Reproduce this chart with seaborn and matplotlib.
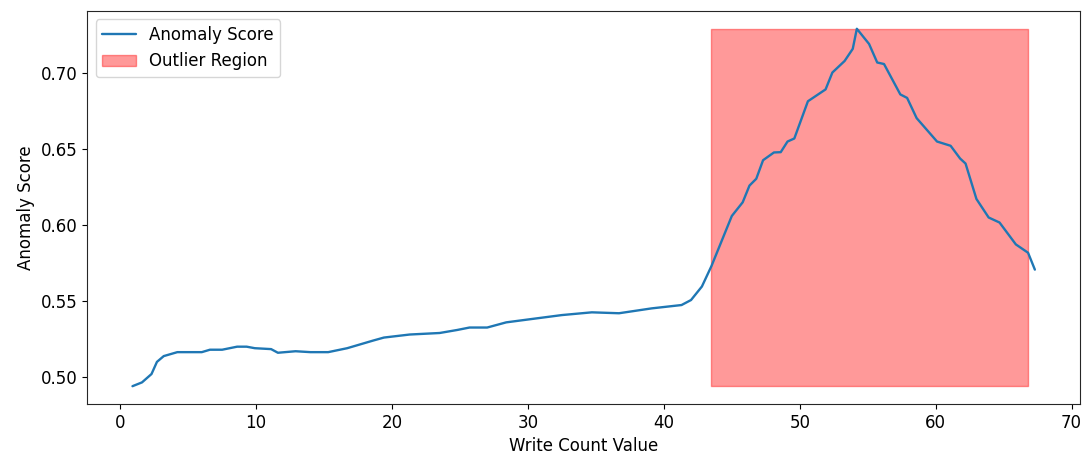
import numpy as np
import seaborn as sns
import matplotlib.pyplot as plt

# write count values (x) and the anomaly score
write_count = [0.9, 1.6, 2.3, 2.7, 3.2, 4.2, 6.0, 6.6, 7.5, 8.6, 9.3, 9.9, 11.1, 11.6,
               12.9, 14.0, 15.3, 16.7, 18.6, 19.4, 21.3, 23.5, 24.8, 25.7, 27.0, 28.4,
               30.1, 32.5, 34.7, 36.7, 39.1, 41.3, 42.0, 42.8, 43.5, 44.0, 45.0, 45.8,
               46.3, 46.8, 47.3, 48.1, 48.6, 49.1, 49.6, 50.6, 51.9, 52.4, 53.3, 53.9,
               54.2, 55.1, 55.7, 56.2, 57.4, 57.9, 58.6, 60.1, 61.1, 61.8, 62.2, 63.0,
               63.9, 64.7, 65.9, 66.8, 67.3]
anomaly_score = [0.494, 0.4965, 0.502, 0.510, 0.5138, 0.5164, 0.5164, 0.518, 0.518, 0.520,
                 0.520, 0.519, 0.5184, 0.516, 0.517, 0.5164, 0.5164, 0.519, 0.524, 0.526,
                 0.528, 0.529, 0.531, 0.5326, 0.5326, 0.536, 0.538, 0.5408, 0.5426, 0.542,
                 0.5452, 0.5474, 0.5507, 0.5596, 0.573, 0.584, 0.606, 0.615, 0.626, 0.6305,
                 0.6427, 0.6478, 0.648, 0.655, 0.657, 0.6815, 0.6893, 0.7004, 0.708, 0.716,
                 0.7292, 0.7192, 0.707, 0.706, 0.686, 0.6837, 0.6704, 0.655, 0.6522, 0.6438,
                 0.6405, 0.6172, 0.605, 0.6017, 0.5873, 0.5818, 0.5707]

# bounds of the region flagged as outliers
outlier_start = 43.5
outlier_end = 66.8

sns.set_style("ticks", {'text.color': 'black', 'axes.labelcolor': 'black',
                        'xtick.color': 'black', 'ytick.color': 'black'})
plt.rcParams['font.family'] = ['DejaVu Sans']

fig, ax = plt.subplots(figsize=(10.92, 4.54), dpi=100)
fig.subplots_adjust(left=0.08, right=0.989, top=0.976, bottom=0.11)

sns.lineplot(x=write_count, y=anomaly_score, ax=ax, color='tab:blue', lw=1.7,
             label='Anomaly Score')
ax.fill_between([outlier_start, outlier_end], min(anomaly_score), max(anomaly_score),
                color='r', alpha=.4, label='Outlier Region')

ax.set_yticks([0.50, 0.55, 0.60, 0.65, 0.70])
ax.set_xlabel('Write Count Value', fontsize=12)
ax.set_ylabel('Anomaly Score', fontsize=12)
ax.tick_params(labelsize=12)
ax.legend(loc='upper left', fontsize=12)

plt.savefig('out.png', dpi=100)
plt.close()
